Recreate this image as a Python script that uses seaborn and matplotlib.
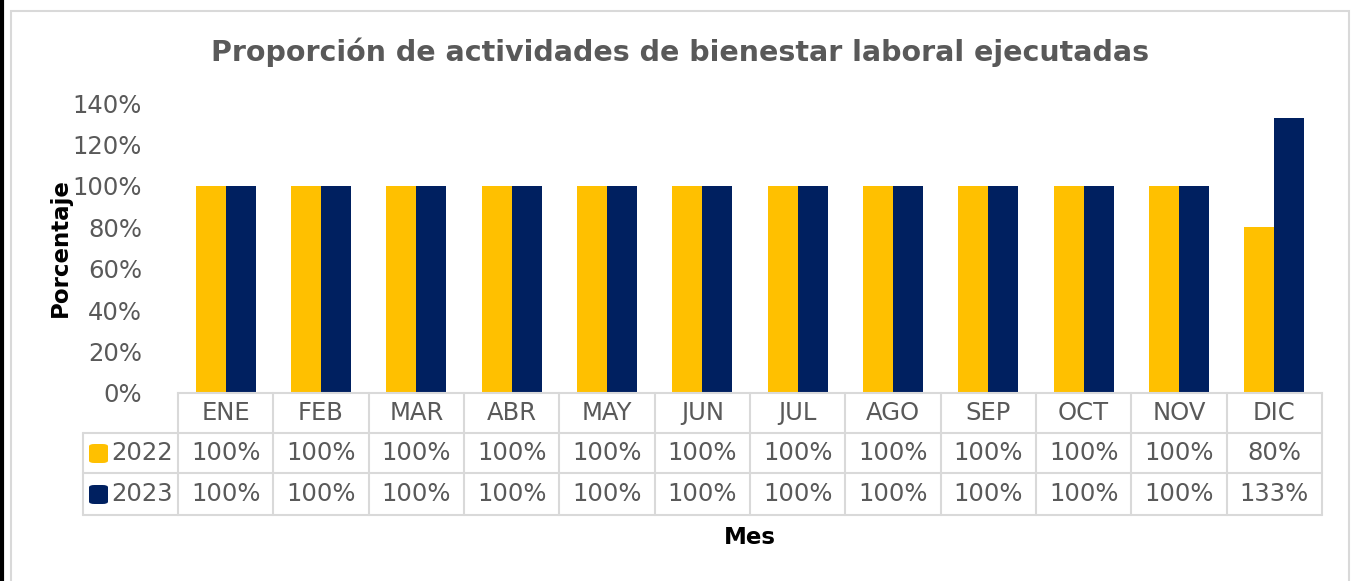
import matplotlib
matplotlib.use('Agg')
import matplotlib.pyplot as plt
import matplotlib.transforms as mtransforms
from matplotlib.patches import FancyBboxPatch, Rectangle
from matplotlib.lines import Line2D
import pandas as pd
import seaborn as sns

# ── data ──────────────────────────────────────────────
meses = ['ENE', 'FEB', 'MAR', 'ABR', 'MAY', 'JUN', 'JUL', 'AGO', 'SEP', 'OCT', 'NOV', 'DIC']
anios = ['2022', '2023']
vals_2022 = [100, 100, 100, 100, 100, 100, 100, 100, 100, 100, 100, 80]
vals_2023 = [100, 100, 100, 100, 100, 100, 100, 100, 100, 100, 100, 133]
colores = {'2022': '#FFC000', '2023': '#002060'}

df = pd.DataFrame({
    'Mes': meses * 2,
    'Año': ['2022'] * 12 + ['2023'] * 12,
    'Valor': vals_2022 + vals_2023,
})

W, H = 1357, 581
GRAY = '#595959'
GRID = '#D9D9D9'
FS = 17.5

sns.set_theme(style='white')
plt.rcParams['font.family'] = ['DejaVu Sans']

fig = plt.figure(figsize=(W / 100, H / 100), dpi=100)
fig.patch.set_facecolor('white')

# plot area in pixels
x0, x1 = 178, 1322
y_top, y_bot = 103, 393
ax = fig.add_axes([x0 / W, (H - y_bot) / H, (x1 - x0) / W, (y_bot - y_top) / H])

sns.barplot(data=df, x='Mes', y='Valor', hue='Año', hue_order=anios,
            palette=colores, width=0.63, saturation=1, linewidth=0,
            ax=ax, legend=False)

ax.set_ylim(0, 140)
ax.set_xlim(-0.5, 11.5)
ax.set_yticks(range(0, 141, 20))
ax.set_yticklabels([f'{v}%' for v in range(0, 141, 20)], color=GRAY, fontsize=FS)
ax.tick_params(axis='y', length=0, pad=26)
ax.set_xticks([])
ax.set_xlabel('')
ax.set_ylabel('')
for s in ['top', 'right', 'left']:
    ax.spines[s].set_visible(False)
ax.spines['bottom'].set_color(GRID)
ax.spines['bottom'].set_linewidth(1.5)

# ── data table under the axis ─────────────────────────
def py(ypix):
    # pixel row -> axes y fraction
    return (y_bot - ypix) / (y_bot - y_top)

trans = mtransforms.blended_transform_factory(ax.transData, ax.transAxes)
rows = [393, 433, 473, 515]
legend_x = 83

# horizontal lines
for r in rows[1:]:
    fig.add_artist(Line2D([legend_x / W, x1 / W], [(H - r) / H] * 2,
                          color=GRID, lw=1.5))
# vertical lines
for k in range(13):
    ax.plot([k - 0.5, k - 0.5], [py(rows[0]), py(rows[-1])], transform=trans,
            color=GRID, lw=1.5, clip_on=False)
fig.add_artist(Line2D([legend_x / W] * 2, [(H - rows[1]) / H, (H - rows[-1]) / H],
                      color=GRID, lw=1.5))

for i, m in enumerate(meses):
    ax.text(i, py((rows[0] + rows[1]) / 2), m, transform=trans, ha='center',
            va='center', fontsize=FS, color=GRAY, clip_on=False)
    ax.text(i, py((rows[1] + rows[2]) / 2), f'{vals_2022[i]}%', transform=trans,
            ha='center', va='center', fontsize=FS, color=GRAY, clip_on=False)
    ax.text(i, py((rows[2] + rows[3]) / 2), f'{vals_2023[i]}%', transform=trans,
            ha='center', va='center', fontsize=FS, color=GRAY, clip_on=False)

for j, a in enumerate(anios):
    yc = (rows[j + 1] + rows[j + 2]) / 2
    fig.add_artist(FancyBboxPatch(((legend_x + 6) / W, (H - yc - 10) / H), 19 / W, 19 / H,
                                  boxstyle='round,pad=0,rounding_size=0.004',
                                  facecolor=colores[a], edgecolor='none'))
    fig.text((legend_x + 28) / W, (H - yc) / H, a, ha='left', va='center',
             fontsize=FS, color=GRAY)

# ── titles ────────────────────────────────────────────
fig.text(680 / W, (H - 52) / H, 'Proporción de actividades de bienestar laboral ejecutadas',
         ha='center', va='center', fontsize=20.5, fontweight='bold', color=GRAY)
fig.text(60 / W, (H - 248) / H, 'Porcentaje', rotation=90, ha='center', va='center',
         fontsize=16.5, fontweight='bold', color='black')
fig.text(750 / W, (H - 538) / H, 'Mes', ha='center', va='center',
         fontsize=16.5, fontweight='bold', color='black')

# chart frame
fig.add_artist(Rectangle((11 / W, -0.05), (1349 - 11) / W, (H - 11) / H + 0.05,
                         transform=fig.transFigure, fill=False, edgecolor=GRID, lw=1.5))
fig.add_artist(Line2D([2 / W, 2 / W], [0, 1], color='black', lw=3))

fig.savefig('out.png', dpi=100)
